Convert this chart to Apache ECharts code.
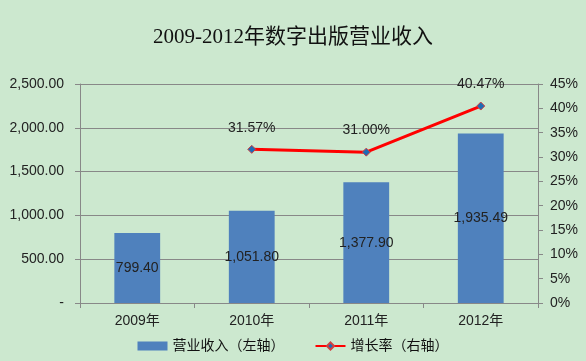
<!DOCTYPE html>
<html>
<head>
<meta charset="utf-8">
<script src="https://cdn.jsdelivr.net/npm/echarts@6/dist/echarts.min.js"></script>
<style>
html,body{margin:0;padding:0;background:#CCE8CF;}
#c{width:586px;height:361px;}
</style>
</head>
<body>
<div id="c"></div>
<script>
var titleText = '2009-2012年数字出版营业收入';
var categories = ['2009年', '2010年', '2011年', '2012年'];
var revenue = [799.40, 1051.80, 1377.90, 1935.49];
var growth = [null, 31.57, 31.00, 40.47];
var seriesNames = ['营业收入（左轴）', '增长率（右轴）'];

var fmtNum = function (v) {
  return Number(v).toLocaleString('en-US', {minimumFractionDigits: 2, maximumFractionDigits: 2});
};
var baseFont = '"Liberation Sans", "Noto Sans CJK SC", sans-serif';

var chart = echarts.init(document.getElementById('c'));
chart.setOption({
  backgroundColor: '#CCE8CF',
  animation: false,
  title: {
    text: titleText,
    left: 'center',
    top: 22,
    textStyle: {fontFamily: '"Liberation Serif", "Noto Sans CJK SC", serif', fontWeight: 'normal', fontSize: 21, color: '#111'}
  },
  legend: {
    bottom: 3,
    left: 'center',
    itemWidth: 30,
    itemHeight: 9,
    itemGap: 30,
    textStyle: {fontFamily: baseFont, fontSize: 14, color: '#111'},
    data: [
      {name: seriesNames[0], icon: 'rect'},
      {name: seriesNames[1]}
    ]
  },
  grid: {left: 80, right: 48, top: 84, bottom: 58},
  xAxis: {
    type: 'category',
    data: categories,
    axisLine: {lineStyle: {color: '#888'}},
    axisTick: {show: true, length: 5, lineStyle: {color: '#888'}},
    axisLabel: {fontFamily: baseFont, fontSize: 14, color: '#222', margin: 11}
  },
  yAxis: [
    {
      type: 'value', min: 0, max: 2500, interval: 500,
      axisLine: {show: true, lineStyle: {color: '#888'}},
      axisTick: {show: true, length: 5, lineStyle: {color: '#888'}},
      splitLine: {lineStyle: {color: '#888', width: 1}},
      axisLabel: {
        fontFamily: baseFont, fontSize: 14, color: '#222', margin: 16,
        formatter: function (v) { return v === 0 ? '-' : fmtNum(v); }
      }
    },
    {
      type: 'value', min: 0, max: 45, interval: 5, position: 'right',
      axisLine: {show: true, lineStyle: {color: '#888'}},
      axisTick: {show: true, length: 5, lineStyle: {color: '#888'}},
      splitLine: {show: false},
      axisLabel: {fontFamily: baseFont, fontSize: 14, color: '#222', margin: 12, formatter: '{value}%'}
    }
  ],
  series: [
    {
      name: seriesNames[0],
      type: 'bar',
      data: revenue,
      barWidth: '40%',
      itemStyle: {color: '#4F81BD'},
      label: {
        show: true, position: 'inside',
        fontFamily: baseFont, fontSize: 14, color: '#222',
        formatter: function (p) { return fmtNum(p.value); }
      }
    },
    {
      name: seriesNames[1],
      type: 'line',
      yAxisIndex: 1,
      data: growth,
      symbol: 'diamond',
      symbolSize: 8,
      itemStyle: {color: '#1F6BB5', borderColor: '#D04040', borderWidth: 1},
      lineStyle: {color: '#FF0000', width: 3},
      label: {
        show: true, position: 'top', distance: 10,
        fontFamily: baseFont, fontSize: 14, color: '#222',
        formatter: function (p) { return p.value.toFixed(2) + '%'; }
      }
    }
  ]
});
</script>
</body>
</html>
